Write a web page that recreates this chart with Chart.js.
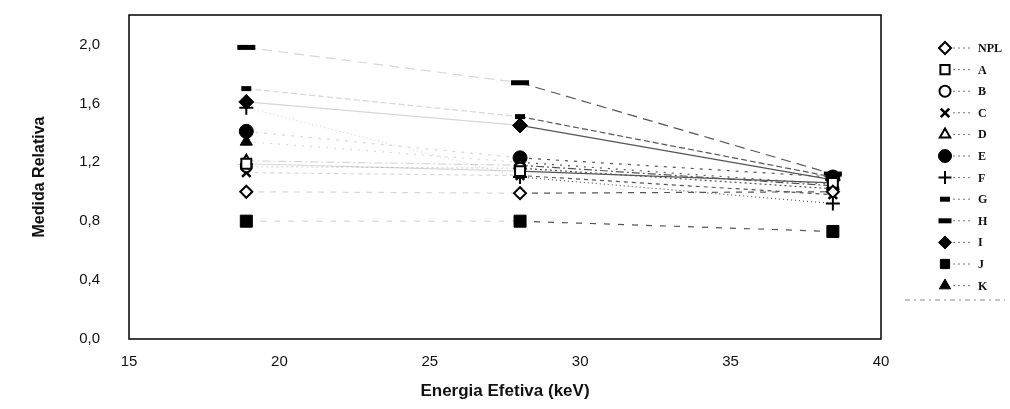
<!DOCTYPE html>
<html>
<head>
<meta charset="utf-8">
<script src="https://cdn.jsdelivr.net/npm/chart.js@4/dist/chart.umd.min.js"></script>
<style>
  html, body { margin: 0; padding: 0; background: #fff; }
  #wrap { width: 1010px; height: 409px; }
</style>
</head>
<body>
<div id="wrap"><canvas id="chart"></canvas></div>
<script>
// Data
const energies = [18.9, 28.0, 38.4];
const seriesNames = ['NPL', 'A', 'B', 'C', 'D', 'E', 'F', 'G', 'H', 'I', 'J', 'K'];
const valNPL = [1.00, 0.99, 1.00];
const valA = [1.19, 1.14, 1.06];
const valB = [1.17, 1.16, 1.02];
const valC = [1.13, 1.11, 0.98];
const valD = [1.21, 1.18, 1.04];
const valE = [1.41, 1.23, 1.10];
const valF = [1.57, 1.10, 0.92];
const valG = [1.70, 1.51, 1.10];
const valH = [1.98, 1.74, 1.12];
const valI = [1.61, 1.45, 1.08];
const valJ = [0.80, 0.80, 0.73];
const valK = [1.34, 1.20, 1.05];
const xTicks = [15, 20, 25, 30, 35, 40];
const yTicks = [0, 0.4, 0.8, 1.2, 1.6, 2.0];

const allValues = [valNPL, valA, valB, valC, valD, valE, valF, valG, valH, valI, valJ, valK];

// marker look per series
const markers = [
  { style: 'rectRot', r: 6, fill: '#fff', bw: 2 },     // NPL open diamond
  { style: 'rect', r: 7, fill: '#fff', bw: 2 },        // A open square
  { style: 'circle', r: 5.5, fill: '#fff', bw: 2 },    // B open circle
  { style: 'crossRot', r: 6, fill: '#000', bw: 2.5 },  // C x
  { style: 'triangle', r: 6, fill: '#fff', bw: 2 },    // D open triangle
  { style: 'circle', r: 7, fill: '#000', bw: 1 },      // E filled circle
  { style: 'cross', r: 7, fill: '#000', bw: 2 },       // F plus
  { style: 'line', r: 5, fill: '#000', bw: 5 },        // G short dash
  { style: 'line', r: 9, fill: '#000', bw: 5 },        // H long dash
  { style: 'rectRot', r: 7.5, fill: '#000', bw: 1 },   // I filled diamond
  { style: 'rect', r: 8.5, fill: '#000', bw: 1 },      // J filled square
  { style: 'triangle', r: 7, fill: '#000', bw: 1 }     // K filled triangle
];
const dashes = [[6, 6], [], [2, 3], [4, 4], [8, 3, 2, 3], [3, 6], [1, 3], [6, 3], [10, 6], [], [6, 8], [2, 6]];

const datasets = seriesNames.map((name, i) => ({
  label: name,
  data: energies.map((e, j) => ({ x: e, y: allValues[i][j] })),
  showLine: true,
  borderColor: '#555',
  borderWidth: 1.2,
  borderDash: dashes[i],
  segment: {
    borderColor: ctx => ctx.p0DataIndex === 0 ? 'rgba(0,0,0,0.16)' : '#555'
  },
  pointStyle: markers[i].style,
  pointRadius: markers[i].r,
  pointBorderWidth: markers[i].bw,
  pointBorderColor: '#000',
  pointBackgroundColor: markers[i].fill
}));

// frame around the plot area
const framePlugin = {
  id: 'frame',
  afterDraw(chart) {
    const a = chart.chartArea;
    const ctx = chart.ctx;
    ctx.save();
    ctx.strokeStyle = '#111';
    ctx.lineWidth = 1.6;
    ctx.strokeRect(a.left, a.top, a.right - a.left, a.bottom - a.top);
    ctx.restore();
  }
};

// legend on the right: marker, short line sample, label
const sideLegend = {
  id: 'sideLegend',
  afterDraw(chart) {
    const ctx = chart.ctx;
    const x0 = 945, y0 = 48, step = 21.6;
    ctx.save();
    chart.data.datasets.forEach((ds, i) => {
      const y = y0 + i * step;
      ctx.strokeStyle = '#777';
      ctx.lineWidth = 1;
      ctx.setLineDash([2, 3]);
      ctx.beginPath();
      ctx.moveTo(x0 + 8, y);
      ctx.lineTo(x0 + 28, y);
      ctx.stroke();
      ctx.setLineDash([]);
      ctx.fillStyle = ds.pointBackgroundColor;
      ctx.strokeStyle = '#000';
      ctx.lineWidth = ds.pointBorderWidth;
      Chart.helpers.drawPoint(ctx, {
        pointStyle: ds.pointStyle,
        radius: Math.min(ds.pointRadius, 6.5),
        borderWidth: ds.pointBorderWidth,
        rotation: 0
      }, x0, y);
      ctx.fillStyle = '#111';
      ctx.font = 'bold 12px "Liberation Serif", "DejaVu Serif", serif';
      ctx.textBaseline = 'middle';
      ctx.textAlign = 'left';
      ctx.fillText(ds.label, x0 + 33, y + 1);
    });
    ctx.strokeStyle = '#888';
    ctx.lineWidth = 1;
    ctx.setLineDash([5, 4, 2, 4]);
    ctx.beginPath();
    ctx.moveTo(905, 300);
    ctx.lineTo(1005, 300);
    ctx.stroke();
    ctx.restore();
  }
};

const ctx = document.getElementById('chart').getContext('2d');
new Chart(ctx, {
  type: 'scatter',
  data: { datasets: datasets },
  options: {
    responsive: true,
    maintainAspectRatio: false,
    animation: false,
    events: [],
    layout: { padding: { top: 15, left: 30, right: 129, bottom: 0 } },
    plugins: {
      legend: { display: false },
      tooltip: { enabled: false }
    },
    scales: {
      x: {
        type: 'linear',
        min: 15,
        max: 40,
        afterBuildTicks: scale => { scale.ticks = xTicks.map(v => ({ value: v })); },
        afterFit: scale => { scale.height = 70; },
        grid: { display: false, drawTicks: false },
        border: { display: false },
        ticks: {
          color: '#111',
          padding: 14,
          font: { family: '"Liberation Sans", Arial, sans-serif', size: 15 }
        },
        title: {
          display: true,
          text: 'Energia Efetiva (keV)',
          color: '#111',
          padding: { top: 0, bottom: 7 },
          font: { family: '"Liberation Sans", Arial, sans-serif', size: 17, weight: 'bold' }
        }
      },
      y: {
        min: 0,
        max: 2.2,
        afterBuildTicks: scale => { scale.ticks = yTicks.map(v => ({ value: v })); },
        afterFit: scale => {
          scale.width = 99;
          scale.paddingTop = 0;
          scale.paddingBottom = 0;
        },
        grid: { display: false, drawTicks: false },
        border: { display: false },
        ticks: {
          color: '#111',
          padding: 29,
          font: { family: '"Liberation Sans", Arial, sans-serif', size: 15 },
          callback: v => v.toFixed(1).replace('.', ',')
        },
        title: {
          display: true,
          text: 'Medida Relativa',
          color: '#111',
          padding: { top: 0, bottom: 10 },
          font: { family: '"Liberation Sans", Arial, sans-serif', size: 16, weight: 'bold' }
        }
      }
    }
  },
  plugins: [framePlugin, sideLegend]
});
</script>
</body>
</html>
